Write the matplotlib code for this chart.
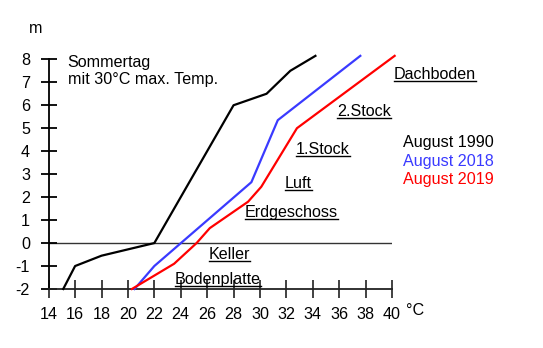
import matplotlib
matplotlib.use("Agg")
import matplotlib.pyplot as plt
from matplotlib.lines import Line2D

plt.rcParams['font.family'] = ['Liberation Sans', 'DejaVu Sans']
plt.rcParams['axes.unicode_minus'] = False

# Data: (temperature °C, height m)
t_1990 = [15.1, 16.0, 18.0, 22.0, 28.0, 30.5, 32.3, 34.2]
h_1990 = [-2.0, -1.0, -0.55, 0.0, 6.0, 6.5, 7.5, 8.15]
t_2018 = [20.5, 22.0, 29.35, 31.35, 37.6]
h_2018 = [-2.0, -1.0, 2.65, 5.35, 8.15]
t_2019 = [20.3, 23.5, 25.2, 26.2, 29.1, 30.1, 32.8, 40.2]
h_2019 = [-2.0, -0.9, 0.0, 0.65, 1.8, 2.45, 5.0, 8.15]

x_ticks = [14, 16, 18, 20, 22, 24, 26, 28, 30, 32, 34, 36, 38, 40]
y_ticks = [-2, -1, 0, 1, 2, 3, 4, 5, 6, 7, 8]

series_labels = ["August 1990", "August 2018", "August 2019"]
colors = ["#000000", "#3a3aff", "#ff0000"]

floor_labels = ["Dachboden", "2.Stock", "1.Stock", "Luft", "Erdgeschoss", "Keller", "Bodenplatte"]

W, H = 543, 348
fig = plt.figure(figsize=(W / 100, H / 100), dpi=100)
ax = fig.add_axes([48.7 / W, 1 - 289 / H, (392 - 48.7) / W, (289 - 59.3) / H])
ax.set_xlim(14, 40)
ax.set_ylim(-2, 8)
ax.patch.set_alpha(0)

for s in ['top', 'right']:
    ax.spines[s].set_visible(False)
for s in ['left', 'bottom']:
    ax.spines[s].set_linewidth(1.3)
ax.spines['bottom'].set_color('#222222')

ax.set_xticks(x_ticks)
ax.set_yticks(y_ticks)
ax.tick_params(axis='x', direction='inout', length=13, width=1.3, pad=6.5, labelsize=11.6, color='#333333')
ax.tick_params(axis='y', direction='inout', length=12, width=1.3, pad=7.5, labelsize=11.6)

ax.axhline(0, color='#333333', lw=1.0, zorder=1)

for tt, hh, c in zip([t_1990, t_2018, t_2019], [h_1990, h_2018, h_2019], colors):
    ax.plot(tt, hh, color=c, lw=1.6, clip_on=False, zorder=3)

def px(x, y):
    return x / W, 1 - y / H

fs = 11.6
fig.text(*px(29, 32.7), "m", fontsize=fs, ha='left', va='baseline')
fig.text(*px(406, 315), "°C", fontsize=fs, ha='left', va='baseline')
fig.text(*px(67.5, 66.5), "Sommertag", fontsize=fs, ha='left', va='baseline')
fig.text(*px(67.5, 84), "mit 30°C max. Temp.", fontsize=fs, ha='left', va='baseline')

floor_pos = [(394, 79.3), (337, 116), (296, 154.3), (284.5, 187.7), (245, 217), (208.5, 259), (175, 283.7)]
r = fig.canvas.get_renderer()
for lab, (x, y) in zip(floor_labels, floor_pos):
    t = fig.text(*px(x, y), lab, fontsize=fs, ha='left', va='baseline')
    bb = t.get_window_extent(renderer=r)
    yl = 1 - (y + 1.8) / H
    fig.add_artist(Line2D([bb.x0 / W, bb.x1 / W], [yl, yl], color='black', lw=1.0))

legend_y = [147, 165.5, 183.7]
for lab, c, y in zip(series_labels, colors, legend_y):
    fig.text(*px(403, y), lab, fontsize=fs, ha='left', va='baseline', color=c)

fig.savefig("out.png", dpi=100)
